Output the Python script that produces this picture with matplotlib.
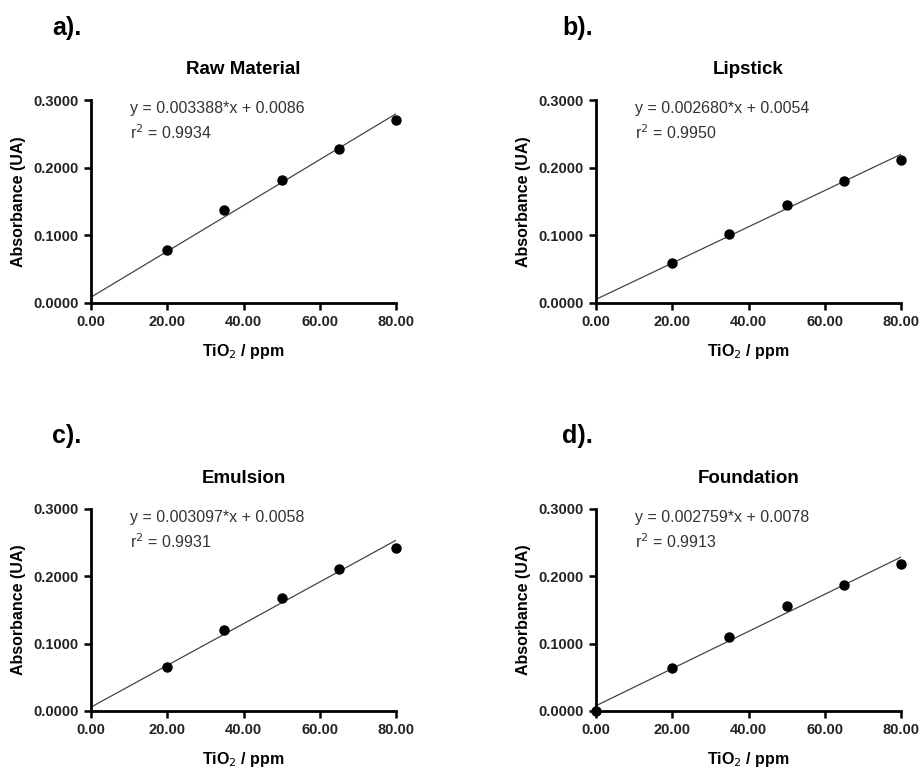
import matplotlib.pyplot as plt
from matplotlib.ticker import FormatStrFormatter

plt.rcParams['font.family'] = ['Liberation Sans', 'DejaVu Sans']

# concentrations (ppm)
conc = [20, 35, 50, 65, 80]
conc_found = [0, 20, 35, 50, 65, 80]

# absorbance readings
raw_abs = [0.0778, 0.1378, 0.1812, 0.2278, 0.2705]
lip_abs = [0.0590, 0.1013, 0.1446, 0.1805, 0.2115]
emu_abs = [0.0657, 0.1200, 0.1685, 0.2110, 0.2427]
fnd_abs = [0.0000, 0.0633, 0.1100, 0.1557, 0.1878, 0.2190]

# linear fits: slope, intercept, r2
slopes = [0.003388, 0.002680, 0.003097, 0.002759]
intercepts = [0.0086, 0.0054, 0.0058, 0.0078]
r2 = ['0.9934', '0.9950', '0.9931', '0.9913']

titles = ['Raw Material', 'Lipstick', 'Emulsion', 'Foundation']
letters = ['a).', 'b).', 'c).', 'd).']
x_sets = [conc, conc, conc, conc_found]
y_sets = [raw_abs, lip_abs, emu_abs, fnd_abs]

W, H = 921, 768
fig = plt.figure(figsize=(W / 100, H / 100), dpi=100)

# axes boxes in pixels: left, top, right, bottom
boxes = [(91, 100, 396, 303), (596, 100, 901, 303),
         (91, 509, 396, 711), (596, 509, 901, 711)]
letter_pos = [(52, 28), (562, 28), (52, 436), (562, 436)]

for i in range(4):
    l, t, r, b = boxes[i]
    ax = fig.add_axes([l / W, 1 - b / H, (r - l) / W, (b - t) / H])

    xs = [0, 80]
    ys = [slopes[i] * v + intercepts[i] for v in xs]
    ax.plot(xs, ys, color='#444444', lw=0.9, zorder=2)
    ax.plot(x_sets[i], y_sets[i], 'o', color='black', ms=6.5, clip_on=False, zorder=3)

    ax.set_xlim(0, 80)
    ax.set_ylim(0, 0.3)
    ax.set_xticks([0, 20, 40, 60, 80])
    ax.set_yticks([0, 0.1, 0.2, 0.3])
    ax.xaxis.set_major_formatter(FormatStrFormatter('%.2f'))
    ax.yaxis.set_major_formatter(FormatStrFormatter('%.4f'))
    for lab in ax.get_xticklabels() + ax.get_yticklabels():
        lab.set_fontweight('bold')
        lab.set_fontsize(10.5)
        lab.set_color('#222222')
    ax.tick_params(direction='out', length=5, width=1.8, pad=4)

    ax.spines['top'].set_visible(False)
    ax.spines['right'].set_visible(False)
    ax.spines['left'].set_linewidth(2)
    ax.spines['bottom'].set_linewidth(2)

    ax.set_ylabel('Absorbance (UA)', fontweight='bold', fontsize=11.5, labelpad=5)
    ax.set_xlabel('TiO$_2$ / ppm', fontweight='bold', fontsize=11.5, labelpad=9)
    ax.set_title(titles[i], fontweight='bold', fontsize=13.5, pad=19)

    ax.text(10.1, 0.2877, 'y = %.6f*x + %.4f' % (slopes[i], intercepts[i]),
            fontsize=11.5, color='#333333', va='center')
    ax.text(10.1, 0.252, 'r$^2$ = ' + r2[i], fontsize=11.5, color='#333333', va='center')

    lx, ly = letter_pos[i]
    fig.text(lx / W, 1 - ly / H, letters[i], fontsize=18, fontweight='bold', va='center')

fig.savefig('out.png', dpi=100)
